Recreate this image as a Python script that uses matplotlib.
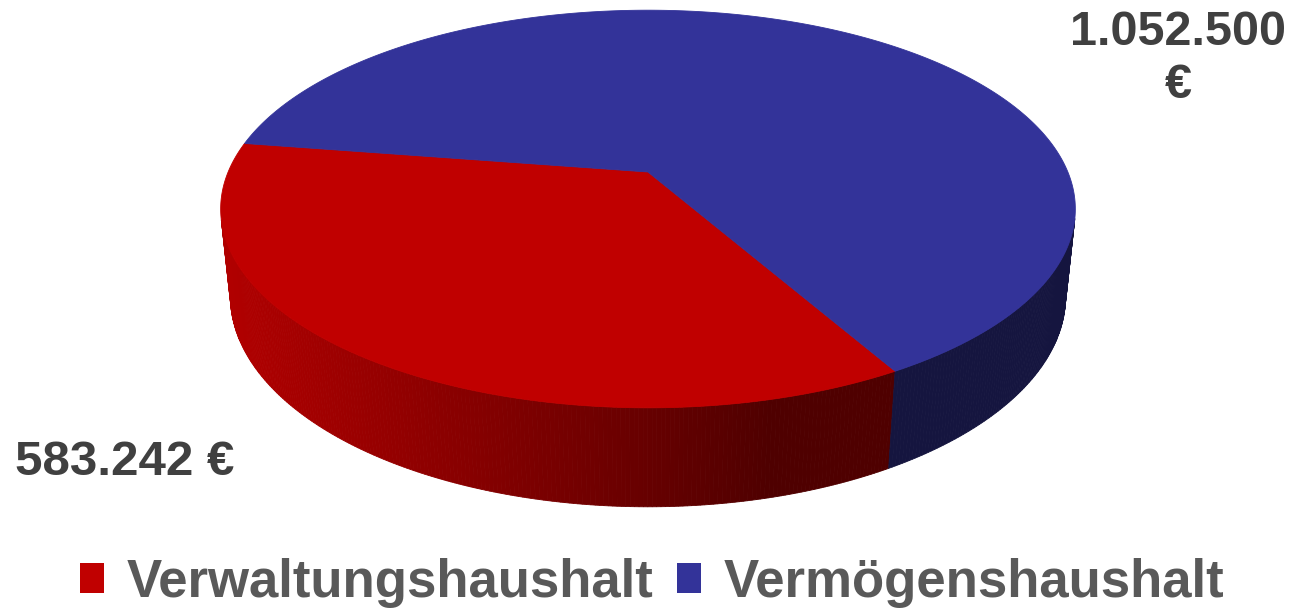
import numpy as np
import matplotlib.pyplot as plt
from matplotlib.patches import Polygon, Patch

# data
labels = ['Verwaltungshaushalt', 'Vermögenshaushalt']
values = [583242, 1052500]
value_labels = ['583.242 €', '1.052.500\n€']
colors = ['#C00000', '#333399']

plt.rcParams['font.family'] = ['Liberation Sans', 'DejaVu Sans']

W, H = 1291, 609
# projection of the 3d disc into pixel coords
CX, CY = 648, 172
FOCAL = 2007
DIST = 4.78
TILT = np.radians(27.2)
THICK = 0.236
START = 171.2  # deg, counterclockwise
LIGHT = np.radians(194)


def project(phi, z):
    s, c = np.sin(TILT), np.cos(TILT)
    X, Y = np.cos(phi), np.sin(phi)
    depth = DIST + Y * c - z * s
    return CX + FOCAL * X / depth, CY - FOCAL * (Y * s + z * c) / depth


def shade(col, f):
    rgb = np.array(plt.matplotlib.colors.to_rgb(col))
    return tuple(np.clip(rgb * f, 0, 1))


fig = plt.figure(figsize=(W / 100, H / 100), dpi=100)
ax = fig.add_axes([0, 0, 1, 1])
ax.set_xlim(0, W)
ax.set_ylim(H, 0)
ax.axis('off')

fracs = np.array(values) / np.sum(values)
edges = np.radians(START + 360 * np.concatenate([[0], np.cumsum(fracs)]))

# sides first (only the part facing the camera)
for i in range(len(values)):
    a0, a1 = edges[i], edges[i + 1]
    n = max(2, int(np.degrees(a1 - a0) / 0.5))
    phis = np.linspace(a0, a1, n + 1)
    for p0, p1 in zip(phis[:-1], phis[1:]):
        pm = 0.5 * (p0 + p1)
        if np.sin(pm) >= -1 / (DIST * np.cos(TILT)):
            continue
        f = 0.41 + 0.51 * max(0.0, np.cos(pm - LIGHT))
        c = shade(colors[i], f)
        x0t, y0t = project(p0, 0)
        x1t, y1t = project(p1, 0)
        x0b, y0b = project(p0, -THICK)
        x1b, y1b = project(p1, -THICK)
        ax.add_patch(Polygon([(x0t, y0t), (x1t, y1t), (x1b, y1b), (x0b, y0b)],
                             closed=True, facecolor=c, edgecolor=c, lw=0.6))

# top faces
for i in range(len(values)):
    phis = np.linspace(edges[i], edges[i + 1], 300)
    xs, ys = project(phis, 0)
    pts = [(CX, CY)] + list(zip(xs, ys))
    ax.add_patch(Polygon(pts, closed=True, facecolor=colors[i], edgecolor=colors[i], lw=0.6))

# value labels
ax.text(15, 475, value_labels[0], fontsize=35.5, fontweight='bold', color='#404040',
        ha='left', va='baseline')
ax.text(1178, 10, value_labels[1], fontsize=35, fontweight='bold', color='#404040',
        ha='center', va='top', linespacing=1.22)

handles = [Patch(facecolor=c, edgecolor='none') for c in colors]
fig.legend(handles, labels, loc='lower center', bbox_to_anchor=(0.505, -0.076), ncol=2,
           frameon=False, labelcolor='#595959',
           prop={'weight': 'bold', 'size': 38},
           handlelength=0.47, handleheight=0.47, handletextpad=0.42, columnspacing=0.44)

fig.savefig('out.png', dpi=100)
